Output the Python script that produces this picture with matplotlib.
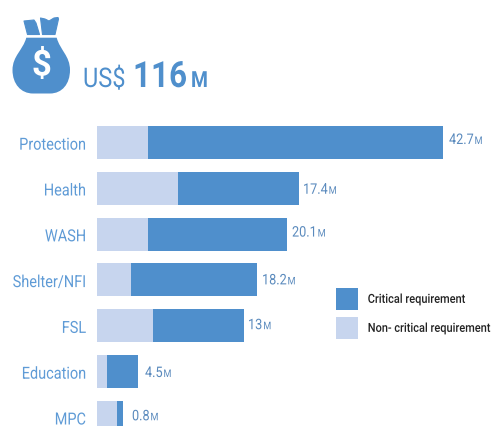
#!/usr/bin/env python3
"""Funding requirement per sector, critical vs non-critical."""

import matplotlib
matplotlib.use("Agg")
import matplotlib.pyplot as plt
from matplotlib.patches import PathPatch, Polygon
from matplotlib.path import Path
from matplotlib.patheffects import AbstractPathEffect
from matplotlib.text import Text
from matplotlib.transforms import Affine2D, Bbox, ScaledTranslation

W, H = 491, 426
FONT = "Roboto"
SQUEEZE = 0.87  # no condensed face installed, so narrow the glyphs when drawing

sectors = ["Protection", "Health", "WASH", "Shelter/NFI", "FSL", "Education", "MPC"]
# bar lengths as drawn in the source (they do not scale with the printed totals)
non_critical = [51, 81, 51, 34, 56, 10, 20]
critical = [295, 121, 139, 126, 91, 31, 6]
totals = ["42.7", "17.4", "20.1", "18.2", "13", "4.5", "0.8"]

# the value labels sit slightly unevenly in the source (pixels)
label_dx = [6, 4, 5, 5, 4, 7, 9]
label_dy = [1.5, 5.5, 2.5, 4.5, 3.5, 5.5, 3]

BLUE = "#4f8fcc"
LIGHT = "#c7d5ee"
LABEL = "#5f9bd6"
VALUE = "#5a8abd"


class Squeeze(AbstractPathEffect):
    """Scale a text path horizontally, keeping its left or right end in place."""

    def __init__(self, sx=SQUEEZE, anchor="left"):
        super().__init__()
        self.sx = sx
        self.anchor = anchor

    def draw_path(self, renderer, gc, tpath, affine, rgbFace=None):
        x0 = tpath.get_extents().x1 if self.anchor == "right" else 0
        tr = Affine2D().translate(-x0, 0).scale(self.sx, 1).translate(x0, 0) + affine
        renderer.draw_path(gc, tpath, tr, rgbFace)


def squeeze_text(t, sx=SQUEEZE, anchor="left"):
    """Squeeze a text and make it report the box its glyphs really cover."""
    t.set_path_effects([Squeeze(sx, anchor)])

    def extent(renderer=None, dpi=None):
        b = Text.get_window_extent(t, renderer, dpi)
        if anchor == "right":
            return Bbox.from_extents(b.x1 - b.width * sx, b.y0, b.x1, b.y1)
        return Bbox.from_extents(b.x0, b.y0, b.x0 + b.width * sx, b.y1)

    t.get_window_extent = extent


def run_text(ax, x, y, parts, gap=1.0):
    """Draw text pieces one after the other on a shared baseline (pixel coords)."""
    r = ax.figure.canvas.get_renderer()
    for s, size, weight, color in parts:
        t = ax.text(x, y, s, fontsize=size, fontweight=weight, color=color,
                    family=FONT, ha="left", va="baseline", parse_math=False)
        squeeze_text(t)
        x += t.get_window_extent(r).width + gap


fig = plt.figure(figsize=(W / 100, H / 100), dpi=100)

# bars: x is in pixels from the bar origin, y is the category index
top, left = 110, 97
ax = fig.add_axes([left / W, 0, 1 - left / W, (H - top) / H])
ax.set_xlim(0, W - left)
ax.set_ylim(6.19, -0.709)
ypos = list(range(len(sectors)))
ax.barh(ypos, non_critical, height=0.72, color=LIGHT, label="Non- critical requirement")
ax.barh(ypos, critical, left=non_critical, height=0.72, color=BLUE, label="Critical requirement")
ax.set_yticks(ypos, sectors, fontsize=12, color=LABEL, family=FONT)
ax.tick_params(axis="y", length=0, pad=8)
ax.set_xticks([])
for s in ax.spines.values():
    s.set_visible(False)
shift = ScaledTranslation(0, -1.2 / 100, fig.dpi_scale_trans)
for lab in ax.get_yticklabels():
    lab.set_path_effects([Squeeze(anchor="right")])
    lab.set_transform(lab.get_transform() + shift)

# overlay in figure pixels for icon, headline and value labels
ov = fig.add_axes([0, 0, 1, 1], facecolor="none")
ov.set_xlim(0, W)
ov.set_ylim(H, 0)
ov.axis("off")

fig.canvas.draw()
for i, (n, c, tot) in enumerate(zip(non_critical, critical, totals)):
    px, py = ax.transData.transform((n + c, i))
    x, y = ov.transData.inverted().transform((px, py))
    run_text(ov, x + label_dx[i], y + label_dy[i],
             [(tot, 10.5, "normal", VALUE), ("M", 7.5, "normal", VALUE)])

# money bag
ov.add_patch(Polygon([(24, 21), (34, 20), (36, 23), (39.5, 34.5), (27.5, 34.5)],
                     closed=True, fc=BLUE, ec=BLUE, lw=0.8, joinstyle="round"))
ov.add_patch(Polygon([(40.5, 18), (45, 19), (49, 21), (54, 18), (58, 17.5), (58.5, 19),
                      (55, 34.5), (42.5, 34.5)],
                     closed=True, fc=BLUE, ec=BLUE, lw=0.8, joinstyle="round"))
bag = Path(
    [(26.3, 37.7), (56.7, 37.7),
     (60, 50), (70, 56), (70, 70),
     (70, 84), (62, 93.5), (50, 93.5),
     (33, 93.5),
     (21, 93.5), (12.5, 84), (12.5, 70),
     (12.5, 56), (23, 50), (26.3, 37.7),
     (26.3, 37.7)],
    [Path.MOVETO, Path.LINETO,
     Path.CURVE4, Path.CURVE4, Path.CURVE4,
     Path.CURVE4, Path.CURVE4, Path.CURVE4,
     Path.LINETO,
     Path.CURVE4, Path.CURVE4, Path.CURVE4,
     Path.CURVE4, Path.CURVE4, Path.CURVE4,
     Path.CLOSEPOLY])
ov.add_patch(PathPatch(bag, fc=BLUE, ec="none"))
ov.text(41.5, 65.5, "$", color="white", fontsize=25, fontweight="bold", family=FONT,
        ha="center", va="center", parse_math=False)

run_text(ov, 83, 87, [("US$", 19.5, "normal", BLUE)])
run_text(ov, 133, 87, [("116", 26, "bold", BLUE)])
run_text(ov, 191, 87, [("M", 16, "bold", BLUE)])

handles, labels = ax.get_legend_handles_labels()
leg = ov.legend(handles[::-1], labels[::-1], loc="upper left",
                bbox_to_anchor=(331 / W, 1 - 283 / H), frameon=False,
                prop={"family": FONT, "size": 9, "weight": "medium"}, labelcolor="#222222",
                handlelength=1.76, handleheight=2.33, labelspacing=0.56, handletextpad=0.78,
                borderpad=0.4, borderaxespad=0)
for t in leg.get_texts():
    squeeze_text(t, sx=0.88)

fig.savefig("out.png", dpi=100)
